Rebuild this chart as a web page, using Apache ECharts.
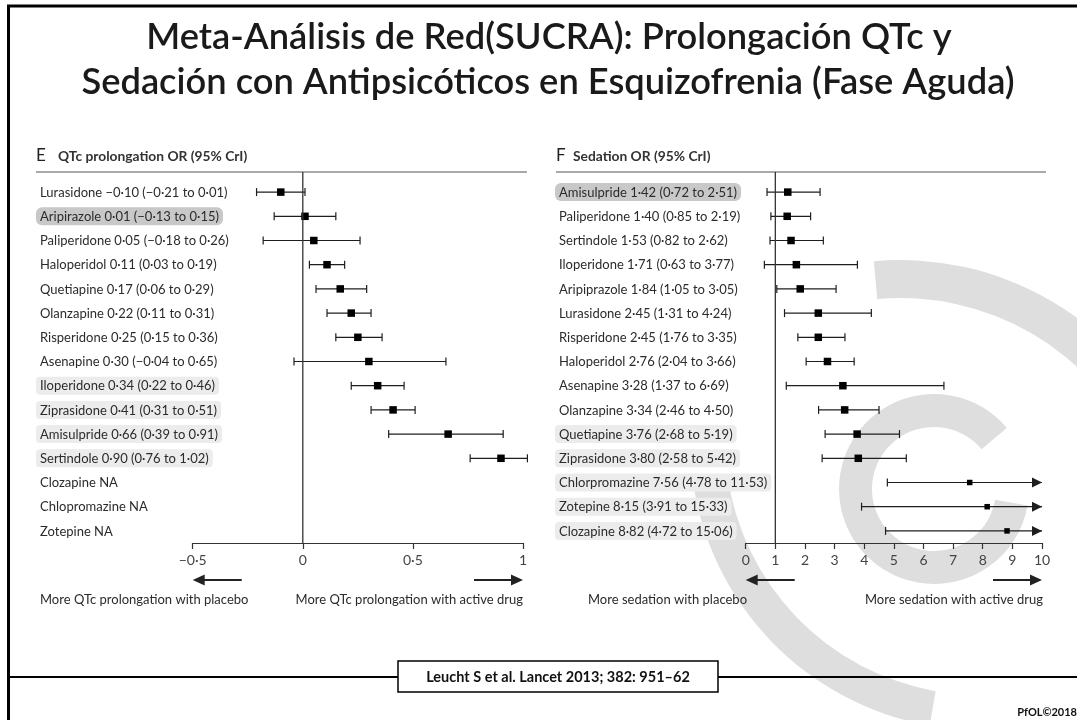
<!DOCTYPE html>
<html><head><meta charset="utf-8">
<script src="https://cdn.jsdelivr.net/npm/echarts@6/dist/echarts.min.js"></script>
<style>html,body{margin:0;padding:0;background:#fff}#c{width:1077px;height:720px}</style>
</head><body><div id="c"></div>
<script>
// ---------- data ----------
const qtcDrugs = ['Lurasidone','Aripirazole','Paliperidone','Haloperidol','Quetiapine','Olanzapine','Risperidone','Asenapine','Iloperidone','Ziprasidone','Amisulpride','Sertindole','Clozapine','Chlopromazine','Zotepine'];
const qtcMean  = [-0.10, 0.01, 0.05, 0.11, 0.17, 0.22, 0.25, 0.30, 0.34, 0.41, 0.66, 0.90, null, null, null];
const qtcLow   = [-0.21,-0.13,-0.18, 0.03, 0.06, 0.11, 0.15,-0.04, 0.22, 0.31, 0.39, 0.76, null, null, null];
const qtcHigh  = [ 0.01, 0.15, 0.26, 0.19, 0.29, 0.31, 0.36, 0.65, 0.46, 0.51, 0.91, 1.02, null, null, null];
const qtcStrong = ['Aripirazole'];
const qtcSoft   = ['Iloperidone','Ziprasidone','Amisulpride','Sertindole'];
const qtcTicks  = [-0.5, 0, 0.5, 1];
const qtcRef    = 0;

const sedDrugs = ['Amisulpride','Paliperidone','Sertindole','Iloperidone','Aripiprazole','Lurasidone','Risperidone','Haloperidol','Asenapine','Olanzapine','Quetiapine','Ziprasidone','Chlorpromazine','Zotepine','Clozapine'];
const sedMean  = [1.42, 1.40, 1.53, 1.71, 1.84, 2.45, 2.45, 2.76, 3.28, 3.34, 3.76, 3.80, 7.56, 8.15, 8.82];
const sedLow   = [0.72, 0.85, 0.82, 0.63, 1.05, 1.31, 1.76, 2.04, 1.37, 2.46, 2.68, 2.58, 4.78, 3.91, 4.72];
const sedHigh  = [2.51, 2.19, 2.62, 3.77, 3.05, 4.24, 3.35, 3.66, 6.69, 4.50, 5.19, 5.42, 11.53, 15.33, 15.06];
const sedStrong = ['Amisulpride'];
const sedSoft   = ['Quetiapine','Ziprasidone','Chlorpromazine','Zotepine','Clozapine'];
const sedTicks  = [0,1,2,3,4,5,6,7,8,9,10];
const sedRef    = 1;

const titleLines = ['Meta-Análisis de Red(SUCRA): Prolongación QTc y', 'Sedación con Antipsicóticos en Esquizofrenia (Fase Aguda)'];
const panelLetters = ['E', 'F'];
const panelTitles = ['QTc prolongation OR (95% CrI)', 'Sedation OR (95% CrI)'];
const arrowTexts = [['More QTc prolongation with placebo', 'More QTc prolongation with active drug'], ['More sedation with placebo', 'More sedation with active drug']];
const citation = 'Leucht S et al. Lancet 2013; 382: 951–62';
const credit = 'PfOL©2018';

// ---------- helpers ----------
const FONT = 'Lato';
const TXT = '#2b2b2b';
function fmt(v){ return (v < 0 ? '−' : '') + Math.abs(v).toFixed(2).replace('.', '·'); }
function tickFmt(v){ return v === 0 ? '0' : (v < 0 ? '−' : '') + String(Math.abs(v)).replace('.', '·'); }
function labels(names, mean, low, high){
  return names.map((n,i) => mean[i] == null ? n + ' NA' : `${n} ${fmt(mean[i])} (${fmt(low[i])} to ${fmt(high[i])})`);
}
function rows(mean, low, high){
  const out = [];
  mean.forEach((m,i) => { if (m != null) out.push([i, m, low[i], high[i]]); });
  return out;
}
const richStyles = {
  n:  {fontFamily: FONT, fontSize: 13, color: TXT, padding: [3,4,2,4]},
  hs: {fontFamily: FONT, fontSize: 13, color: TXT, padding: [3,4,2,4], backgroundColor: '#c8c8c8', borderRadius: 6},
  hl: {fontFamily: FONT, fontSize: 13, color: TXT, padding: [3,4,2,4], backgroundColor: '#ececec', borderRadius: 4}
};
function labelFormatter(names, strong, soft){
  return function(value, idx){
    const nm = names[idx];
    const cls = strong.includes(nm) ? 'hs' : (soft.includes(nm) ? 'hl' : 'n');
    return '{' + cls + '|' + value + '}';
  };
}
function makeRender(axisMax, arrowsAllowed){
  return function(params, api){
    const yi = api.value(0), m = api.value(1), lo = api.value(2), hi = api.value(3);
    const pm = api.coord([m, yi]);
    const y = pm[1];
    const over = arrowsAllowed && hi > axisMax;
    const xl = api.coord([lo, yi])[0];
    const xh = api.coord([over ? axisMax : hi, yi])[0];
    const st = {stroke: '#1e1e1e', lineWidth: 1.2};
    const ch = [
      {type:'line', shape:{x1:xl, y1:y, x2:xh, y2:y}, style:st},
      {type:'line', shape:{x1:xl, y1:y-4, x2:xl, y2:y+4}, style:st}
    ];
    if (over) ch.push({type:'polygon', shape:{points:[[xh-10,y-5],[xh,y],[xh-10,y+5]]}, style:{fill:'#1e1e1e'}});
    else ch.push({type:'line', shape:{x1:xh, y1:y-4, x2:xh, y2:y+4}, style:st});
    const s = over ? 5.5 : 7.5;
    ch.push({type:'rect', shape:{x:pm[0]-s/2, y:y-s/2, width:s, height:s}, style:{fill:'#000'}});
    return {type:'group', children: ch};
  };
}
function refRender(params, api){
  const x = api.coord([api.value(0), 0])[0];
  const cs = params.coordSys;
  return {type:'line', shape:{x1:x, y1:cs.y-8, x2:x, y2:cs.y+cs.height}, style:{stroke:'#333', lineWidth:1.3}};
}

const gridDefs = [
  {left: 192.7, top: 180, width: 330.3, height: 363},
  {left: 745.7, top: 180, width: 296.3, height: 363}
];
const labelStart = [36, 555];

function xAxisDef(gi, ticks, fmtFn){
  return {
    type:'value', gridIndex: gi, min: ticks[0], max: ticks[ticks.length-1],
    interval: ticks[1]-ticks[0], splitLine:{show:false},
    axisLine:{show:true, onZero:false, lineStyle:{color:'#333', width:1.2}},
    axisTick:{show:true, length:6, lineStyle:{color:'#333', width:1.2}},
    axisLabel:{formatter: fmtFn, fontFamily: FONT, fontSize: 14, color:'#444', margin: 10}
  };
}
function yAxisDef(gi, names, lbls, strong, soft){
  return {
    type:'category', gridIndex: gi, inverse:true, data: lbls,
    axisLine:{show:false}, axisTick:{show:false}, splitLine:{show:false},
    axisLabel:{interval:0, align:'left', margin: gridDefs[gi].left - labelStart[gi],
      formatter: labelFormatter(names, strong, soft), rich: richStyles}
  };
}

// ---------- graphics ----------
const G = [];
const WM = '#dedede';
// watermark
G.push({type:'sector', z:-10, shape:{cx:900, cy:560, r:300, r0:262, startAngle: 265*Math.PI/180, endAngle: 335*Math.PI/180}, style:{fill:WM}});
G.push({type:'sector', z:-10, shape:{cx:980, cy:440, r:290, r0:255, startAngle: 100*Math.PI/180, endAngle: 172*Math.PI/180}, style:{fill:WM}});
G.push({type:'sector', z:-10, shape:{cx:934, cy:489, r:95, r0:62, startAngle: 10*Math.PI/180, endAngle: 320*Math.PI/180}, style:{fill:WM}});
// frame
G.push({type:'line', shape:{x1:8.5, y1:5, x2:8.5, y2:720}, style:{stroke:'#000', lineWidth:3}});
G.push({type:'line', shape:{x1:7, y1:6, x2:1077, y2:6}, style:{stroke:'#000', lineWidth:3}});
G.push({type:'line', shape:{x1:8, y1:677, x2:1077, y2:677}, style:{stroke:'#000', lineWidth:2}});
// title
G.push({type:'text', style:{text:titleLines[0], x:549, y:37, textAlign:'center', textVerticalAlign:'middle', fontFamily:FONT, fontSize:36.3, fontWeight:600, fill:'#1a1a1a'}});
G.push({type:'text', style:{text:titleLines[1], x:548, y:82, textAlign:'center', textVerticalAlign:'middle', fontFamily:FONT, fontSize:36.3, fontWeight:600, fill:'#1a1a1a'}});
// panel headers
const hdrX = [[36, 58, 527], [556, 573, 1046]];
hdrX.forEach((h, i) => {
  G.push({type:'text', style:{text:panelLetters[i], x:h[0], y:156, textVerticalAlign:'middle', fontFamily:FONT, fontSize:17, fill:'#222'}});
  G.push({type:'text', style:{text:panelTitles[i], x:h[1], y:157, textVerticalAlign:'middle', fontFamily:FONT, fontSize:13.8, fontWeight:'bold', fill:'#333'}});
  G.push({type:'line', shape:{x1:h[0], y1:172, x2:h[2], y2:172}, style:{stroke:'#555', lineWidth:1.2}});
});
// direction arrows and texts
function arrow(x1, x2, y){
  const dir = Math.sign(x2 - x1);
  G.push({type:'line', shape:{x1:x1, y1:y, x2:x2 - dir*10, y2:y}, style:{stroke:'#222', lineWidth:2}});
  G.push({type:'polygon', shape:{points:[[x2, y],[x2-dir*12, y-5.5],[x2-dir*12, y+5.5]]}, style:{fill:'#222'}});
}
gridDefs.forEach((g, i) => {
  const L = g.left, R = g.left + g.width;
  arrow(L + 49, L, 580);
  arrow(R - 49, R, 580);
});
G.push({type:'text', style:{text:arrowTexts[0][0], x:40, y:600, textVerticalAlign:'middle', fontFamily:FONT, fontSize:13, fill:TXT}});
G.push({type:'text', style:{text:arrowTexts[0][1], x:523, y:600, textAlign:'right', textVerticalAlign:'middle', fontFamily:FONT, fontSize:13, fill:TXT}});
G.push({type:'text', style:{text:arrowTexts[1][0], x:588, y:600, textVerticalAlign:'middle', fontFamily:FONT, fontSize:13, fill:TXT}});
G.push({type:'text', style:{text:arrowTexts[1][1], x:1043, y:600, textAlign:'right', textVerticalAlign:'middle', fontFamily:FONT, fontSize:13, fill:TXT}});
// citation
G.push({type:'rect', shape:{x:398, y:661, width:320, height:31}, style:{fill:'#fff', stroke:'#000', lineWidth:1.5}});
G.push({type:'text', style:{text:citation, x:558, y:677, textAlign:'center', textVerticalAlign:'middle', fontFamily:FONT, fontSize:14.5, fontWeight:'bold', fill:'#111'}});
G.push({type:'text', style:{text:credit, x:1077, y:712, textAlign:'right', textVerticalAlign:'middle', fontFamily:FONT, fontSize:11, fontWeight:'bold', fill:'#111'}});

// ---------- chart ----------
const chart = echarts.init(document.getElementById('c'), null, {renderer:'canvas'});
chart.setOption({
  backgroundColor:'#fff',
  animation:false,
  grid: gridDefs.map(g => Object.assign({containLabel:false, outerBoundsMode:'none'}, g)),
  xAxis: [xAxisDef(0, qtcTicks, tickFmt), xAxisDef(1, sedTicks, v => String(v))],
  yAxis: [
    yAxisDef(0, qtcDrugs, labels(qtcDrugs, qtcMean, qtcLow, qtcHigh), qtcStrong, qtcSoft),
    yAxisDef(1, sedDrugs, labels(sedDrugs, sedMean, sedLow, sedHigh), sedStrong, sedSoft)
  ],
  series: [
    {type:'custom', xAxisIndex:0, yAxisIndex:0, clip:false, encode:{x:[1,2,3], y:0}, data: rows(qtcMean, qtcLow, qtcHigh), renderItem: makeRender(qtcTicks[qtcTicks.length-1], false)},
    {type:'custom', xAxisIndex:0, yAxisIndex:0, clip:false, encode:{x:0}, data:[[qtcRef]], renderItem: refRender},
    {type:'custom', xAxisIndex:1, yAxisIndex:1, clip:false, encode:{x:[1,2,3], y:0}, data: rows(sedMean, sedLow, sedHigh), renderItem: makeRender(sedTicks[sedTicks.length-1], true)},
    {type:'custom', xAxisIndex:1, yAxisIndex:1, clip:false, encode:{x:0}, data:[[sedRef]], renderItem: refRender}
  ],
  graphic: G
});
</script></body></html>
